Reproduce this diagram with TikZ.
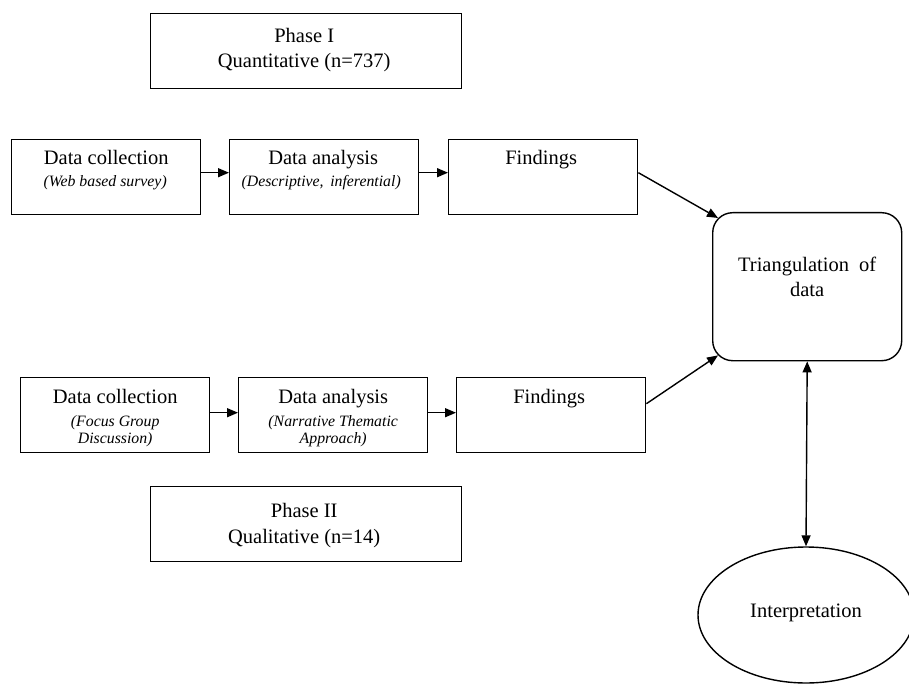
\documentclass[tikz,border=0pt]{standalone}
\usepackage{fontspec}
\setmainfont{Liberation Serif}
\usetikzlibrary{arrows.meta,calc,shapes.geometric}
\begin{document}
\begin{tikzpicture}[x=1pt,y=-1pt,
  box/.style={draw, line width=1.4pt, rectangle, inner sep=0pt, anchor=north west},
  stdbox/.style={box, minimum width=189pt, minimum height=75pt},
  phbox/.style={box, minimum width=311pt, minimum height=75pt},
  main/.style={anchor=base, inner sep=0pt, font=\fontsize{20.5}{24}\selectfont},
  sub/.style={anchor=base, inner sep=0pt, font=\fontsize{15.8}{17}\selectfont\itshape},
  arr/.style={line width=1.4pt, -{Triangle[length=11pt,width=9pt]}},
  darr/.style={line width=1.4pt, {Triangle[length=11pt,width=9pt]}-{Triangle[length=11pt,width=9pt]}},
]
\useasboundingbox (0,0) rectangle (909,684);

% Phase boxes
\node[phbox] (ph1) at (150,13) {};
\node[main] (ph1a) at ($(ph1.north)+(-2,30)$) {Phase I};
\node[main] (ph1b) at ($(ph1.north)+(-2,55)$) {Quantitative (n=737)};

\node[phbox] (ph2) at (150,486) {};
\node[main] (ph2a) at ($(ph2.north)+(-2,31)$) {Phase II};
\node[main] (ph2b) at ($(ph2.north)+(-2,57)$) {Qualitative (n=14)};

% Row 1
\node[stdbox] (dc1) at (11,139) {};
\node[main] (dc1a) at ($(dc1.north)+(0,26)$) {Data collection};
\node[sub] (dc1b) at ($(dc1.north)+(-1,48)$) {(Web based survey)};

\node[stdbox] (da1) at (229,139) {};
\node[main] (da1a) at ($(da1.north)+(-1,26)$) {Data analysis};
\node[sub] (da1b) at ($(da1.north)+(-3,48)$) {(Descriptive,\, inferential)};

\node[stdbox] (f1) at (448,139) {};
\node[main] (f1a) at ($(f1.north)+(-2,26)$) {Findings};

% Row 2
\node[stdbox] (dc2) at (20,377) {};
\node[main] (dc2a) at ($(dc2.north)+(0,26)$) {Data collection};
\node[sub] (dc2b) at ($(dc2.north)+(0,49)$) {(Focus Group};
\node[sub] (dc2c) at ($(dc2.north)+(0,66)$) {Discussion)};

\node[stdbox] (da2) at (238,377) {};
\node[main] (da2a) at ($(da2.north)+(0,26)$) {Data analysis};
\node[sub] (da2b) at ($(da2.north)+(0,49)$) {(Narrative Thematic};
\node[sub] (da2c) at ($(da2.north)+(0,66)$) {Approach)};

\node[stdbox] (f2) at (456,377) {};
\node[main] (f2a) at ($(f2.north)+(-2,26)$) {Findings};

% Triangulation
\node[draw, line width=1.4pt, rounded corners=20pt, minimum width=189pt, minimum height=148pt,
      inner sep=0pt, anchor=north west] (tri) at (712,212) {};
\node[main] (tria) at ($(tri.north)+(0,60)$) {Triangulation\ \ of};
\node[main] (trib) at ($(tri.north)+(0,85)$) {data};

% Interpretation
\node[draw, line width=1.4pt, ellipse, minimum width=216pt, minimum height=136pt, inner sep=0pt]
      (interp) at (806,615) {};
\node[main] (interpa) at ($(interp.center)+(0,2)$) {Interpretation};

% Connectors
\draw[arr] ([yshift=4.5pt]dc1.east) -- ([yshift=4.5pt]da1.west);
\draw[arr] ([yshift=4.5pt]da1.east) -- ([yshift=4.5pt]f1.west);
\draw[arr] ([yshift=2.5pt]dc2.east) -- ([yshift=2.5pt]da2.west);
\draw[arr] ([yshift=2.5pt]da2.east) -- ([yshift=2.5pt]f2.west);
\draw[arr] ([yshift=4.5pt]f1.east) -- ($(tri.north west)+(6,6)$);
\draw[arr] ([yshift=11.5pt]f2.east) -- ($(tri.south west)+(6,-6)$);
\draw[darr] (tri.south) -- (interp.north);
\end{tikzpicture}
\end{document}
